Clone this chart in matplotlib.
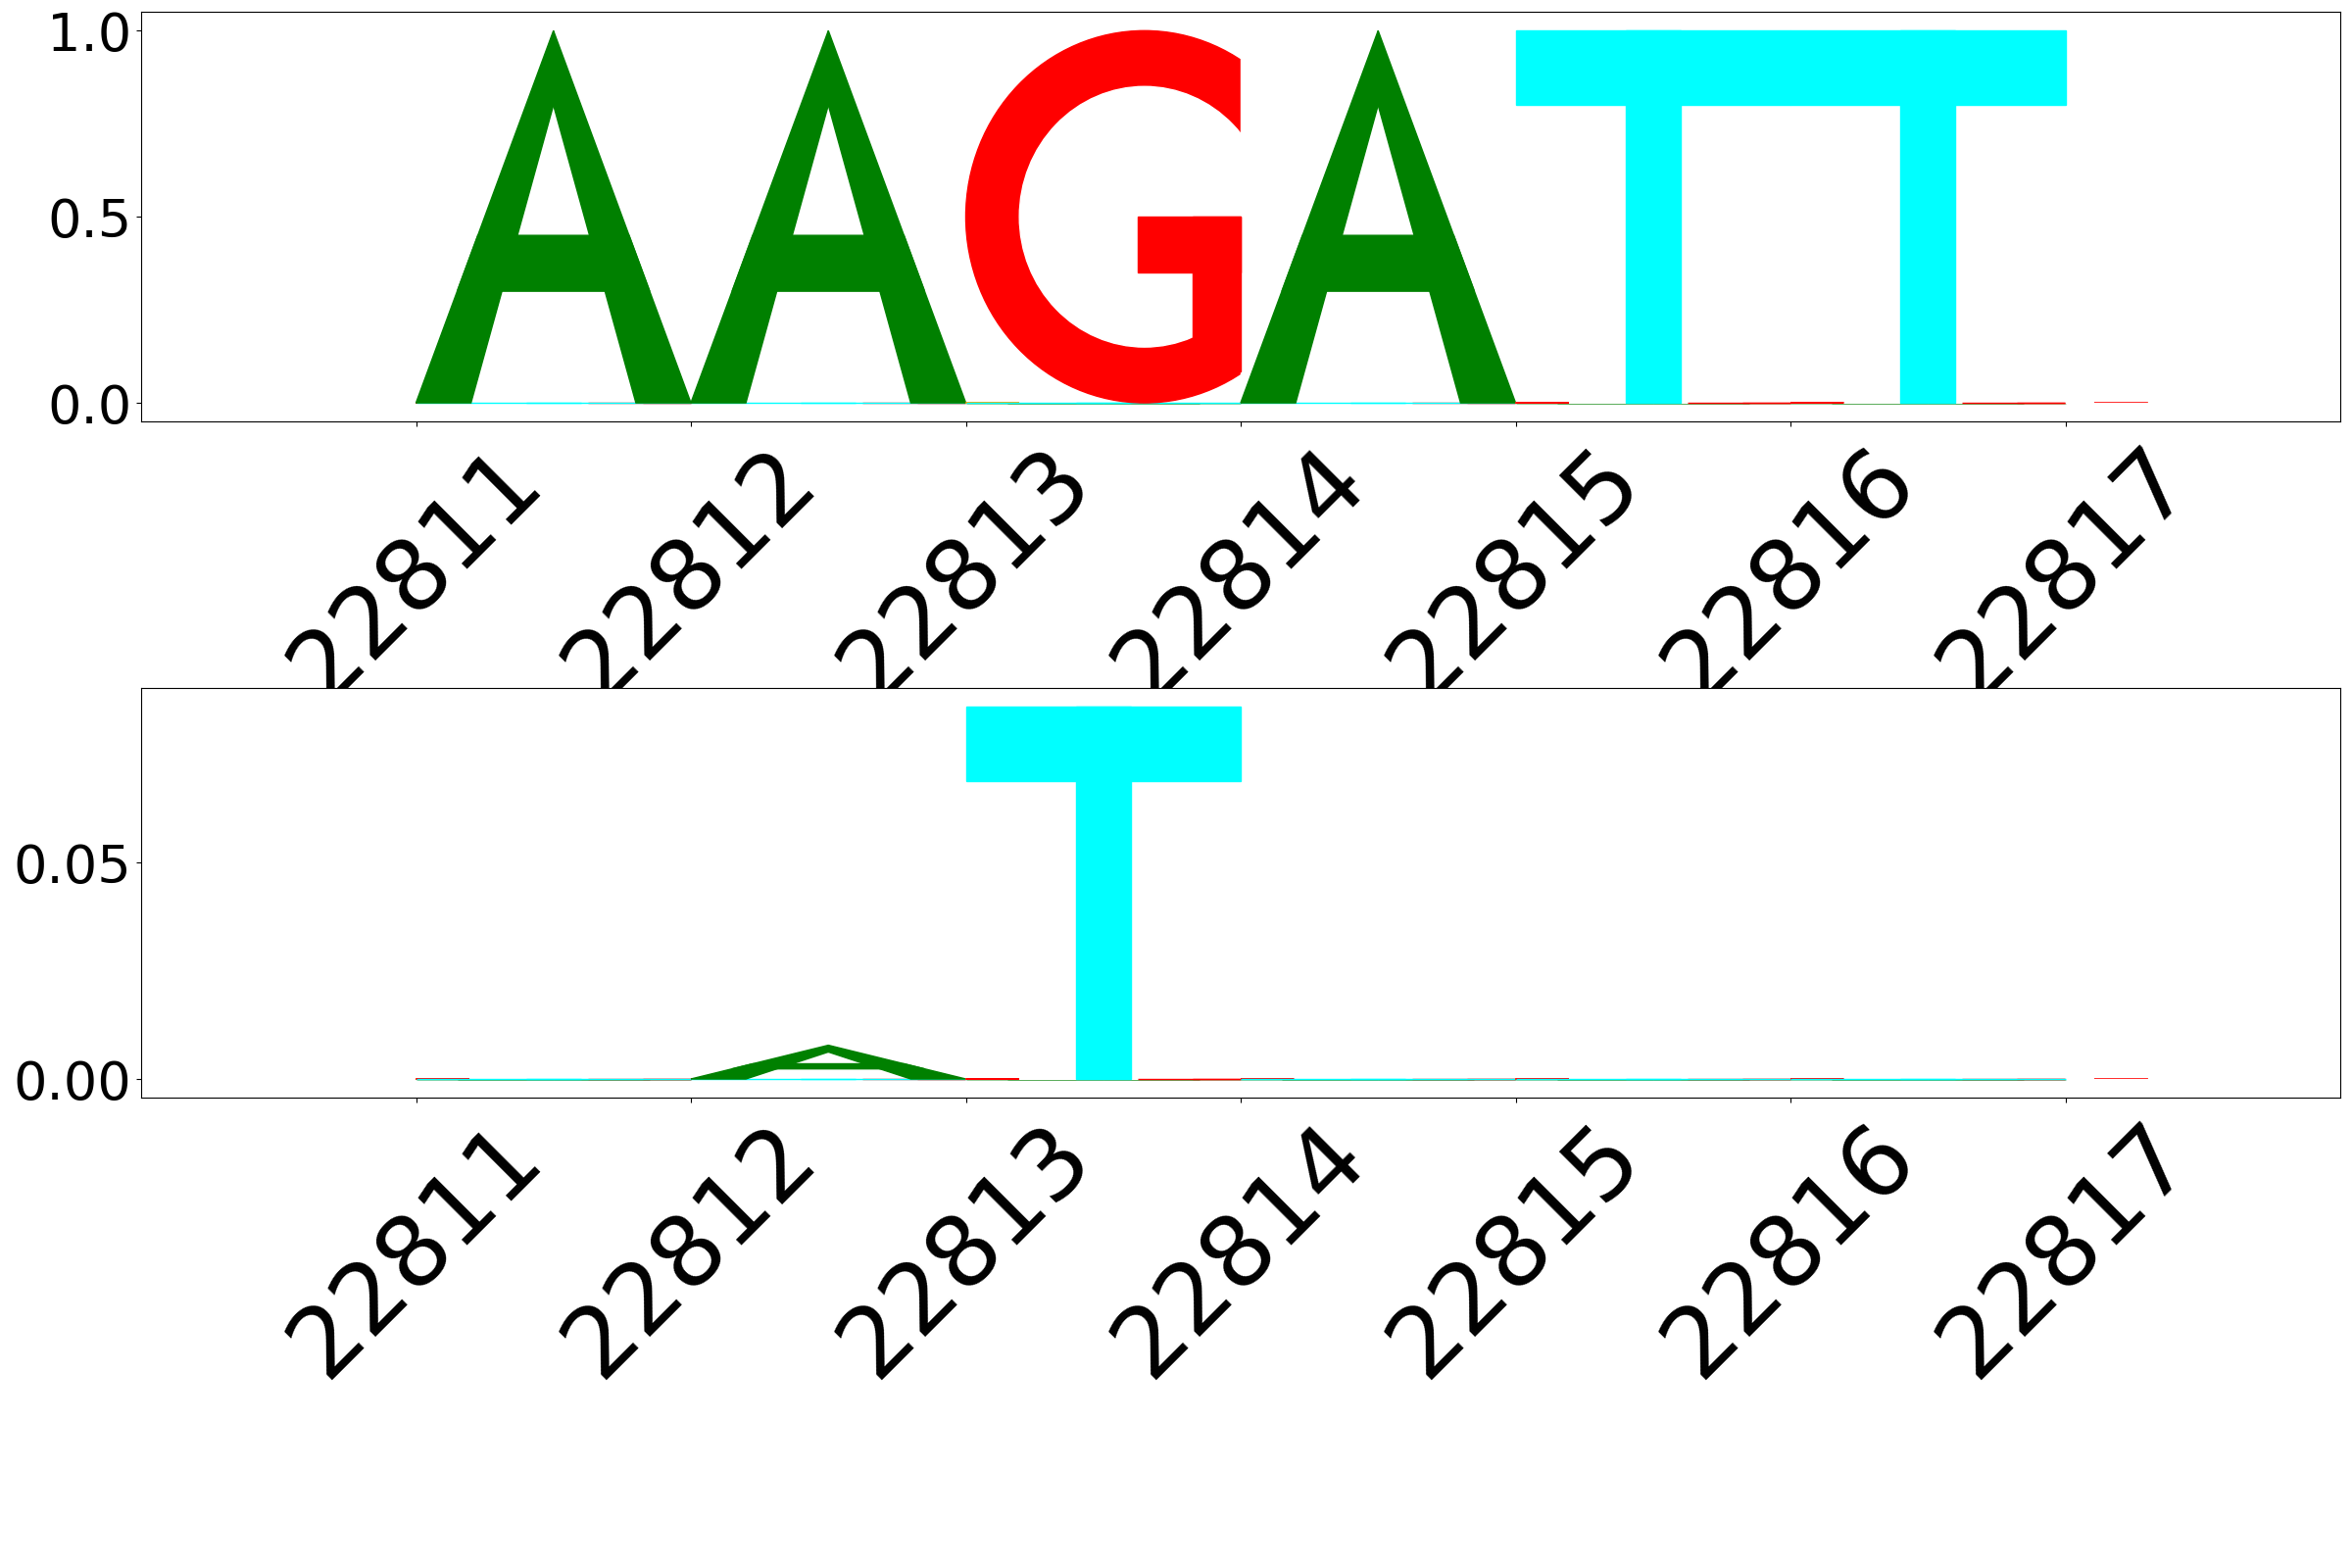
import numpy as np
import matplotlib
matplotlib.use('Agg')
import matplotlib.pyplot as plt
from matplotlib.patches import Polygon, Ellipse, Rectangle

# 位置标签 (6个碱基, 7个刻度)
tick_labels = [22811, 22812, 22813, 22814, 22815, 22816, 22817]

# 上图: 序列 one-hot (AAGATT)
top_A = [1.0, 1.0, 0.0, 1.0, 0.0, 0.0]
top_C = [0.0, 0.0, 0.0, 0.0, 0.0, 0.0]
top_G = [0.0, 0.0, 1.0, 0.0, 0.0, 0.0]
top_T = [0.0, 0.0, 0.0, 0.0, 1.0, 1.0]

# 下图: 重要性分数
bot_A = [0.0, 0.0078, 0.0, 0.0, 0.0, 0.0]
bot_C = [0.0, 0.0, 0.0, 0.0, 0.0, 0.0]
bot_G = [0.0, 0.0, 0.0, 0.0, 0.0, 0.0]
bot_T = [0.0, 0.0, 0.086, 0.0, 0.0, 0.0]

colors = {0: 'green', 1: 'orange', 2: 'red', 3: 'cyan'}


def plot_a(ax, base, left, h, color):
    polys = [
        [[0.0, 0.0], [0.5, 1.0], [0.5, 0.8], [0.2, 0.0]],
        [[1.0, 0.0], [0.5, 1.0], [0.5, 0.8], [0.8, 0.0]],
        [[0.225, 0.45], [0.775, 0.45], [0.85, 0.3], [0.15, 0.3]],
    ]
    for p in polys:
        xy = np.array([1, h])[None, :] * np.array(p) + np.array([left, base])[None, :]
        ax.add_patch(Polygon(xy, facecolor=color, edgecolor=color))


def plot_c(ax, base, left, h, color):
    ax.add_patch(Ellipse(xy=[left + 0.65, base + 0.5 * h], width=1.3, height=h,
                         facecolor=color, edgecolor=color))
    ax.add_patch(Ellipse(xy=[left + 0.65, base + 0.5 * h], width=0.7 * 1.3, height=0.7 * h,
                         facecolor='white', edgecolor='white'))
    ax.add_patch(Rectangle(xy=[left + 1, base], width=1.0, height=h,
                           facecolor='white', edgecolor='white', fill=True))


def plot_g(ax, base, left, h, color):
    plot_c(ax, base, left, h, color)
    ax.add_patch(Rectangle(xy=[left + 0.825, base + 0.085 * h], width=0.174, height=0.415 * h,
                           facecolor=color, edgecolor=color, fill=True))
    ax.add_patch(Rectangle(xy=[left + 0.625, base + 0.35 * h], width=0.374, height=0.15 * h,
                           facecolor=color, edgecolor=color, fill=True))


def plot_t(ax, base, left, h, color):
    ax.add_patch(Rectangle(xy=[left + 0.4, base], width=0.2, height=h,
                           facecolor=color, edgecolor=color, fill=True))
    ax.add_patch(Rectangle(xy=[left, base + 0.8 * h], width=1.0, height=0.2 * h,
                           facecolor=color, edgecolor=color, fill=True))


funcs = {0: plot_a, 1: plot_c, 2: plot_g, 3: plot_t}


def draw_logo(ax, arr, pad=0.05):
    max_pos, min_neg = 0.0, 0.0
    for i in range(arr.shape[0]):
        # 按绝对值从小到大堆叠
        vals = sorted(enumerate(arr[i, :]), key=lambda x: abs(x[1]))
        pos_so_far, neg_so_far = 0.0, 0.0
        for k, v in vals:
            if v > 0:
                base = pos_so_far
                pos_so_far += v
            else:
                base = neg_so_far
                neg_so_far += v
            funcs[k](ax, base, i, v, colors[k])
        max_pos = max(max_pos, pos_so_far)
        min_neg = min(min_neg, neg_so_far)
    ax.set_xlim(-1, arr.shape[0] + 1)
    ax.set_xticks(np.arange(0, arr.shape[0] + 1, 1))
    hp = max(abs(min_neg), abs(max_pos)) * pad
    ax.set_ylim(min_neg - hp, max_pos + hp)


top = np.array([top_A, top_C, top_G, top_T]).T
bot = np.array([bot_A, bot_C, bot_G, bot_T]).T

fig, axes = plt.subplots(2, 1, figsize=(24, 16), dpi=100)
fig.subplots_adjust(left=0.06, right=0.995, top=0.9923, bottom=0.30, hspace=0.6515)

draw_logo(axes[0], top)
axes[0].set_yticks([0.0, 0.5, 1.0])
draw_logo(axes[1], bot)
axes[1].set_yticks([0.0, 0.05])

for ax in axes:
    ax.set_xticklabels(tick_labels, rotation=45, fontsize=72)
    ax.tick_params(axis='y', labelsize=39)

fig.savefig('out.png', dpi=100)
